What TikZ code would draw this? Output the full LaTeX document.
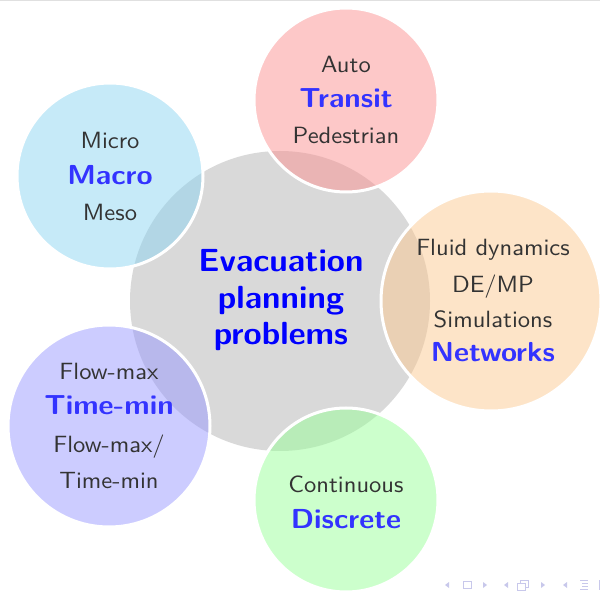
\documentclass[tikz,border=0pt]{standalone}
\usepackage{fontspec}
\setsansfont{lmsans10}[Extension=.otf, UprightFont=*-regular, BoldFont=*-bold, FakeStretch=1.045]
\newfontfamily\keyfont{lmsans10-bold}[Extension=.otf, FakeStretch=1.065]
\newfontfamily\headfont{lmsans10-bold}[Extension=.otf, FakeStretch=1.03]
\begin{document}
\begin{tikzpicture}[x=1pt,y=-1pt,
  bubble/.style={circle, draw=white, line width=3pt, fill opacity=0.5, draw opacity=1, inner sep=0pt, minimum size=#1},
  core/.style={circle, fill=coregray, inner sep=0pt, minimum size=#1},
  plain/.style={anchor=base, text=black!80, inner sep=0pt, font=\sffamily\fontsize{23.5}{24}\selectfont},
  key/.style={anchor=base, text=blue!80, inner sep=0pt, font=\keyfont\fontsize{27.5}{28}\selectfont},
  headline/.style={anchor=base, text=blue, inner sep=0pt, font=\headfont\fontsize{32}{32}\selectfont},
  navtip/.style={fill=navcol, draw=none},
  navline/.style={draw=navcol, line width=1pt},
]
\definecolor{coregray}{RGB}{217,217,217}
\definecolor{pinkfill}{RGB}{251,145,145}
\definecolor{cyanfill}{RGB}{141,213,241}
\definecolor{orangefill}{RGB}{251,201,145}
\definecolor{violetfill}{RGB}{153,153,255}
\definecolor{greenfill}{RGB}{153,255,153}
\definecolor{navcol}{RGB}{200,200,235}

\useasboundingbox (0,0) rectangle (600,593);
\draw[black!12, line width=1.5pt] (0,0.75) -- (600,0.75);

% central bubble
\node[core=300pt] (center) at (280,301) {};

% surrounding bubbles
\node[bubble=184pt, fill=pinkfill]   (transit)  at (346,100) {};
\node[bubble=186pt, fill=cyanfill]   (macro)    at (110,176) {};
\node[bubble=220pt, fill=orangefill] (networks) at (491,301) {};
\node[bubble=202pt, fill=violetfill] (timemin)  at (109,426) {};
\node[bubble=184pt, fill=greenfill]  (discrete) at (346,500) {};

% central label
\node[headline] (h1) at (281,272) {Evacuation};
\node[headline] (h2) at (281,308.5) {planning};
\node[headline] (h3) at (281,345) {problems};

% transit bubble
\node[plain] (ta) at (346,72.5) {Auto};
\node[key]   (tb) at (346,107.5) {Transit};
\node[plain] (tc) at (346,143.5) {Pedestrian};

% macro bubble
\node[plain] (ma) at (110,149) {Micro};
\node[key]   (mb) at (110,185) {Macro};
\node[plain] (mc) at (110,221) {Meso};

% networks bubble
\node[plain] (na) at (493,256) {Fluid dynamics};
\node[plain] (nb) at (493,292.5) {DE/MP};
\node[plain] (nc) at (493,327.5) {Simulations};
\node[key]   (nd) at (493,362) {Networks};

% time-min bubble
\node[plain] (ra) at (109,380) {Flow-max};
\node[key]   (rb) at (109,415) {Time-min};
\node[plain] (rc) at (109,453) {Flow-max/};
\node[plain] (rd) at (109,488.5) {Time-min};

% discrete bubble
\node[plain] (da) at (346,493) {Continuous};
\node[key]   (db) at (346,529) {Discrete};

% navigation symbols
\fill[navtip] (449,582) -- (445,585) -- (449,588) -- cycle;
\draw[navline] (463,581.5) rectangle (471,588.5);
\fill[navtip] (483,582) -- (487,585) -- (483,588) -- cycle;
\fill[navtip] (508,582) -- (504,585) -- (508,588) -- cycle;
\draw[navline] (517,583.5) rectangle (525,590);
\draw[navline] (520,580) -- (528,580) -- (528,587) -- (525,587);
\draw[navline] (520,583.5) -- (520,580);
\fill[navtip] (541,582) -- (545,585) -- (541,588) -- cycle;
\fill[navtip] (567,582) -- (563,585) -- (567,588) -- cycle;
\draw[navline] (580,580) -- (588,580);
\draw[navline] (582,583) -- (588,583);
\draw[navline] (582,586) -- (588,586);
\draw[navline] (580,589) -- (588,589);
\draw[navline] (599,580) -- (599,590);
\end{tikzpicture}
\end{document}
